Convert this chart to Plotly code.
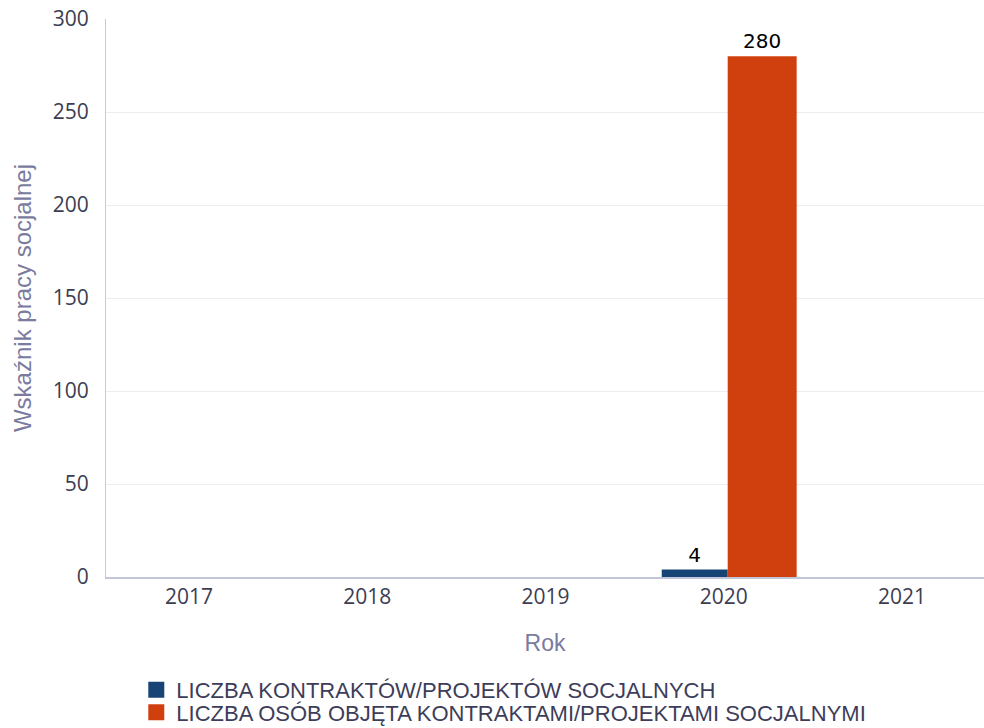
import plotly.graph_objects as go

years = ["2017", "2018", "2019", "2020", "2021"]
contracts = [None, None, None, 4, None]
persons = [None, None, None, 280, None]
series_names = ["LICZBA KONTRAKTÓW/PROJEKTÓW SOCJALNYCH",
                "LICZBA OSÓB OBJĘTA KONTRAKTAMI/PROJEKTAMI SOCJALNYMI"]
colors = ["#164474", "#d0400e"]

fig = go.Figure()
fig.add_trace(go.Bar(x=years, y=contracts, name=series_names[0], showlegend=False,
                     marker=dict(color=colors[0], line=dict(width=0)),
                     width=0.37, offset=-0.348,
                     text=contracts, textposition="outside",
                     textfont=dict(family="DejaVu Sans", color="#000000", size=20),
                     cliponaxis=False))
fig.add_trace(go.Bar(x=years, y=persons, name=series_names[1], showlegend=False,
                     marker=dict(color=colors[1], line=dict(width=0)),
                     width=0.387, offset=0.022,
                     text=persons, textposition="outside",
                     textfont=dict(family="DejaVu Sans", color="#000000", size=20),
                     cliponaxis=False))
# legend entries (one legend per series to control line spacing)
for name, c, lg in zip(series_names, colors, ["legend", "legend2"]):
    fig.add_trace(go.Scatter(x=[None], y=[None], mode="markers", name=name, legend=lg,
                             marker=dict(symbol="square", size=20, color=c)))

legend_style = dict(orientation="v", x=0.0345, xanchor="left", yanchor="top",
                    font=dict(family="Liberation Sans, Arial, sans-serif", size=22, color="#3d3d5a"),
                    tracegroupgap=0, itemwidth=30, bgcolor="rgba(0,0,0,0)")

fig.update_layout(
    width=984, height=728,
    margin=dict(l=106, r=0, t=19, b=151, autoexpand=False),
    paper_bgcolor="white", plot_bgcolor="white",
    font=dict(family="Open Sans, Noto Sans, sans-serif", color="#3d3d52", size=21),
    barmode="group",
    xaxis=dict(type="category", range=[-0.466, 4.46], automargin=False,
               showline=True, linecolor="#c3c6d8", linewidth=2,
               showgrid=False, ticks="", tickfont=dict(size=21, color="#3d3d52"),
               title=dict(text="Rok", font=dict(family="Liberation Sans, Arial, sans-serif", size=23, color="#7a7b9e"), standoff=26)),
    yaxis=dict(range=[0, 300], dtick=50, automargin=False,
               showline=True, linecolor="#c8cadb", linewidth=1,
               showgrid=True, gridcolor="#ececf1", gridwidth=1,
               zeroline=False, ticks="", ticklabelstandoff=12,
               tickfont=dict(size=21, color="#3d3d52"),
               title=dict(text="Wskaźnik pracy socjalnej", font=dict(family="Liberation Sans, Arial, sans-serif", size=24, color="#7a7b9e"), standoff=14)),
    legend=dict(y=-0.165, **legend_style),
    legend2=dict(y=-0.205, **legend_style),
    showlegend=True,
)

fig.write_html("out.html", config={"displayModeBar": False},
               post_script="document.body.style.margin='0';document.body.style.overflow='hidden';")
